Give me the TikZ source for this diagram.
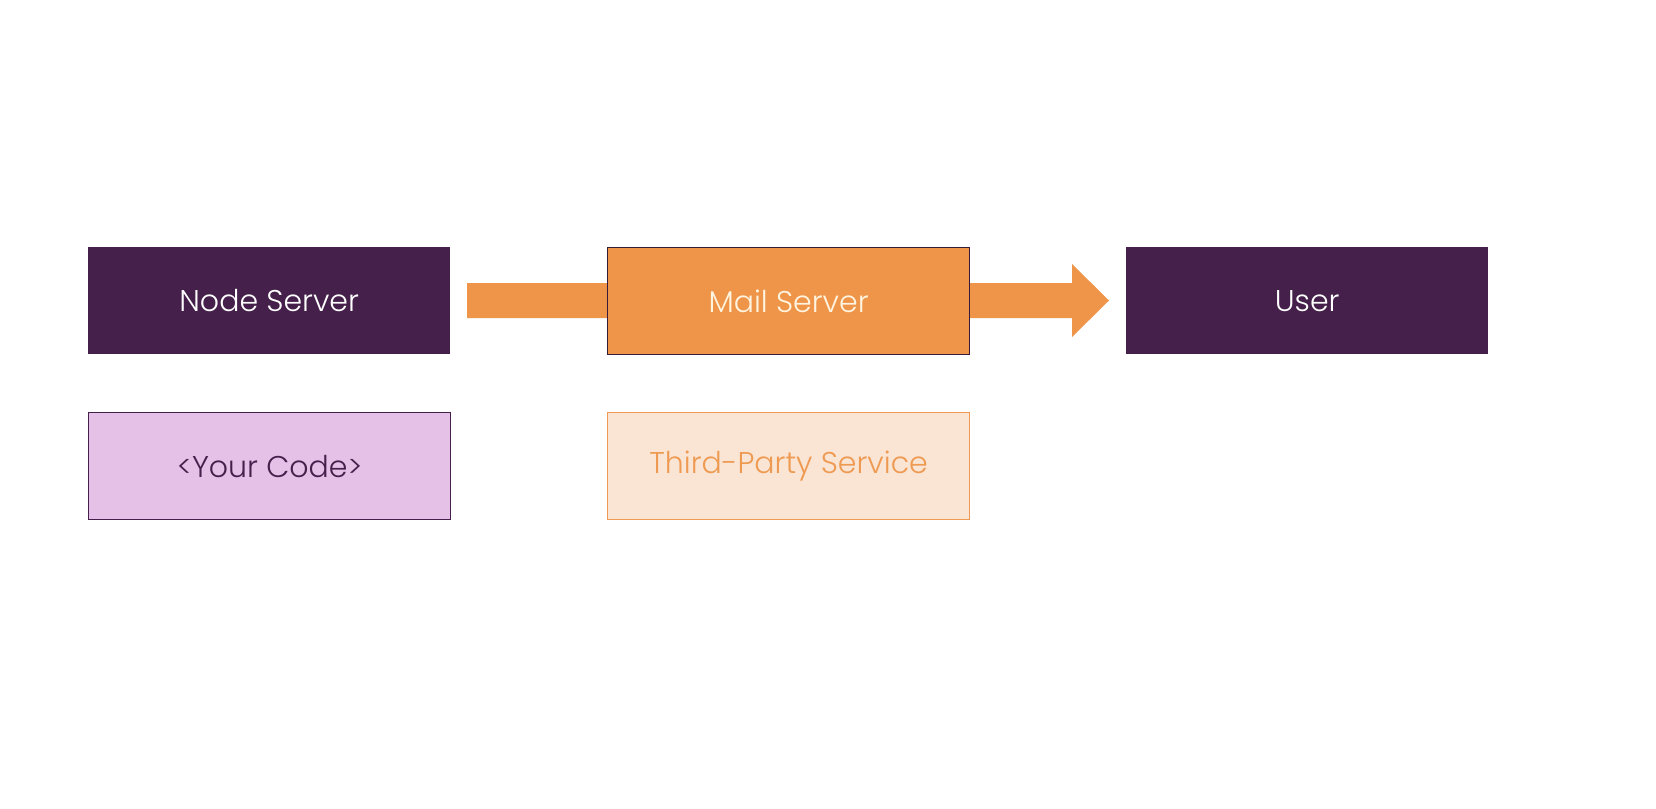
\documentclass[tikz,border=0pt]{standalone}
\usepackage{fontspec}
\setmainfont{Poppins Light}
\definecolor{dpurple}{HTML}{45204A}
\definecolor{orng}{HTML}{EF9549}
\definecolor{lpurple}{HTML}{E5C1E8}
\definecolor{lorng}{HTML}{FAE5D4}
\definecolor{cream}{HTML}{FFF4E0}
\definecolor{torng}{HTML}{EE9A52}
\tikzset{
  box/.style={minimum width=362pt, minimum height=107pt, inner sep=0pt, font=\fontsize{30}{36}\selectfont, anchor=north west},
  darkbox/.style={box, fill=dpurple, text=white},
  mailbox/.style={box, fill=orng, draw=dpurple!80!black, line width=1.2pt, text=cream},
  codebox/.style={box, fill=lpurple, draw=dpurple, line width=1.2pt, text=dpurple},
  thirdbox/.style={box, fill=lorng, draw=torng, line width=1.2pt, text=torng},
  flow/.style={fill=orng, draw=none}
}
\begin{document}
\begin{tikzpicture}[x=1pt,y=-1pt]
\useasboundingbox (0,0) rectangle (1656,808);
\fill[white] (0,0) rectangle (1656,808);
% arrow (behind mail server)
\fill[flow] (467,283) -- (1072,283) -- (1072,264) -- (1109,300.5) -- (1072,337) -- (1072,318) -- (467,318) -- cycle;
\node[darkbox] (node) at (88,247) {Node Server};
\node[mailbox] (mail) at (607,247) {Mail Server};
\node[darkbox] (user) at (1126,247) {User};
\node[codebox] (code) at (88,412) {<Your Code>};
\node[thirdbox] (third) at (607,412) {Third-Party Service};
\end{tikzpicture}
\end{document}
